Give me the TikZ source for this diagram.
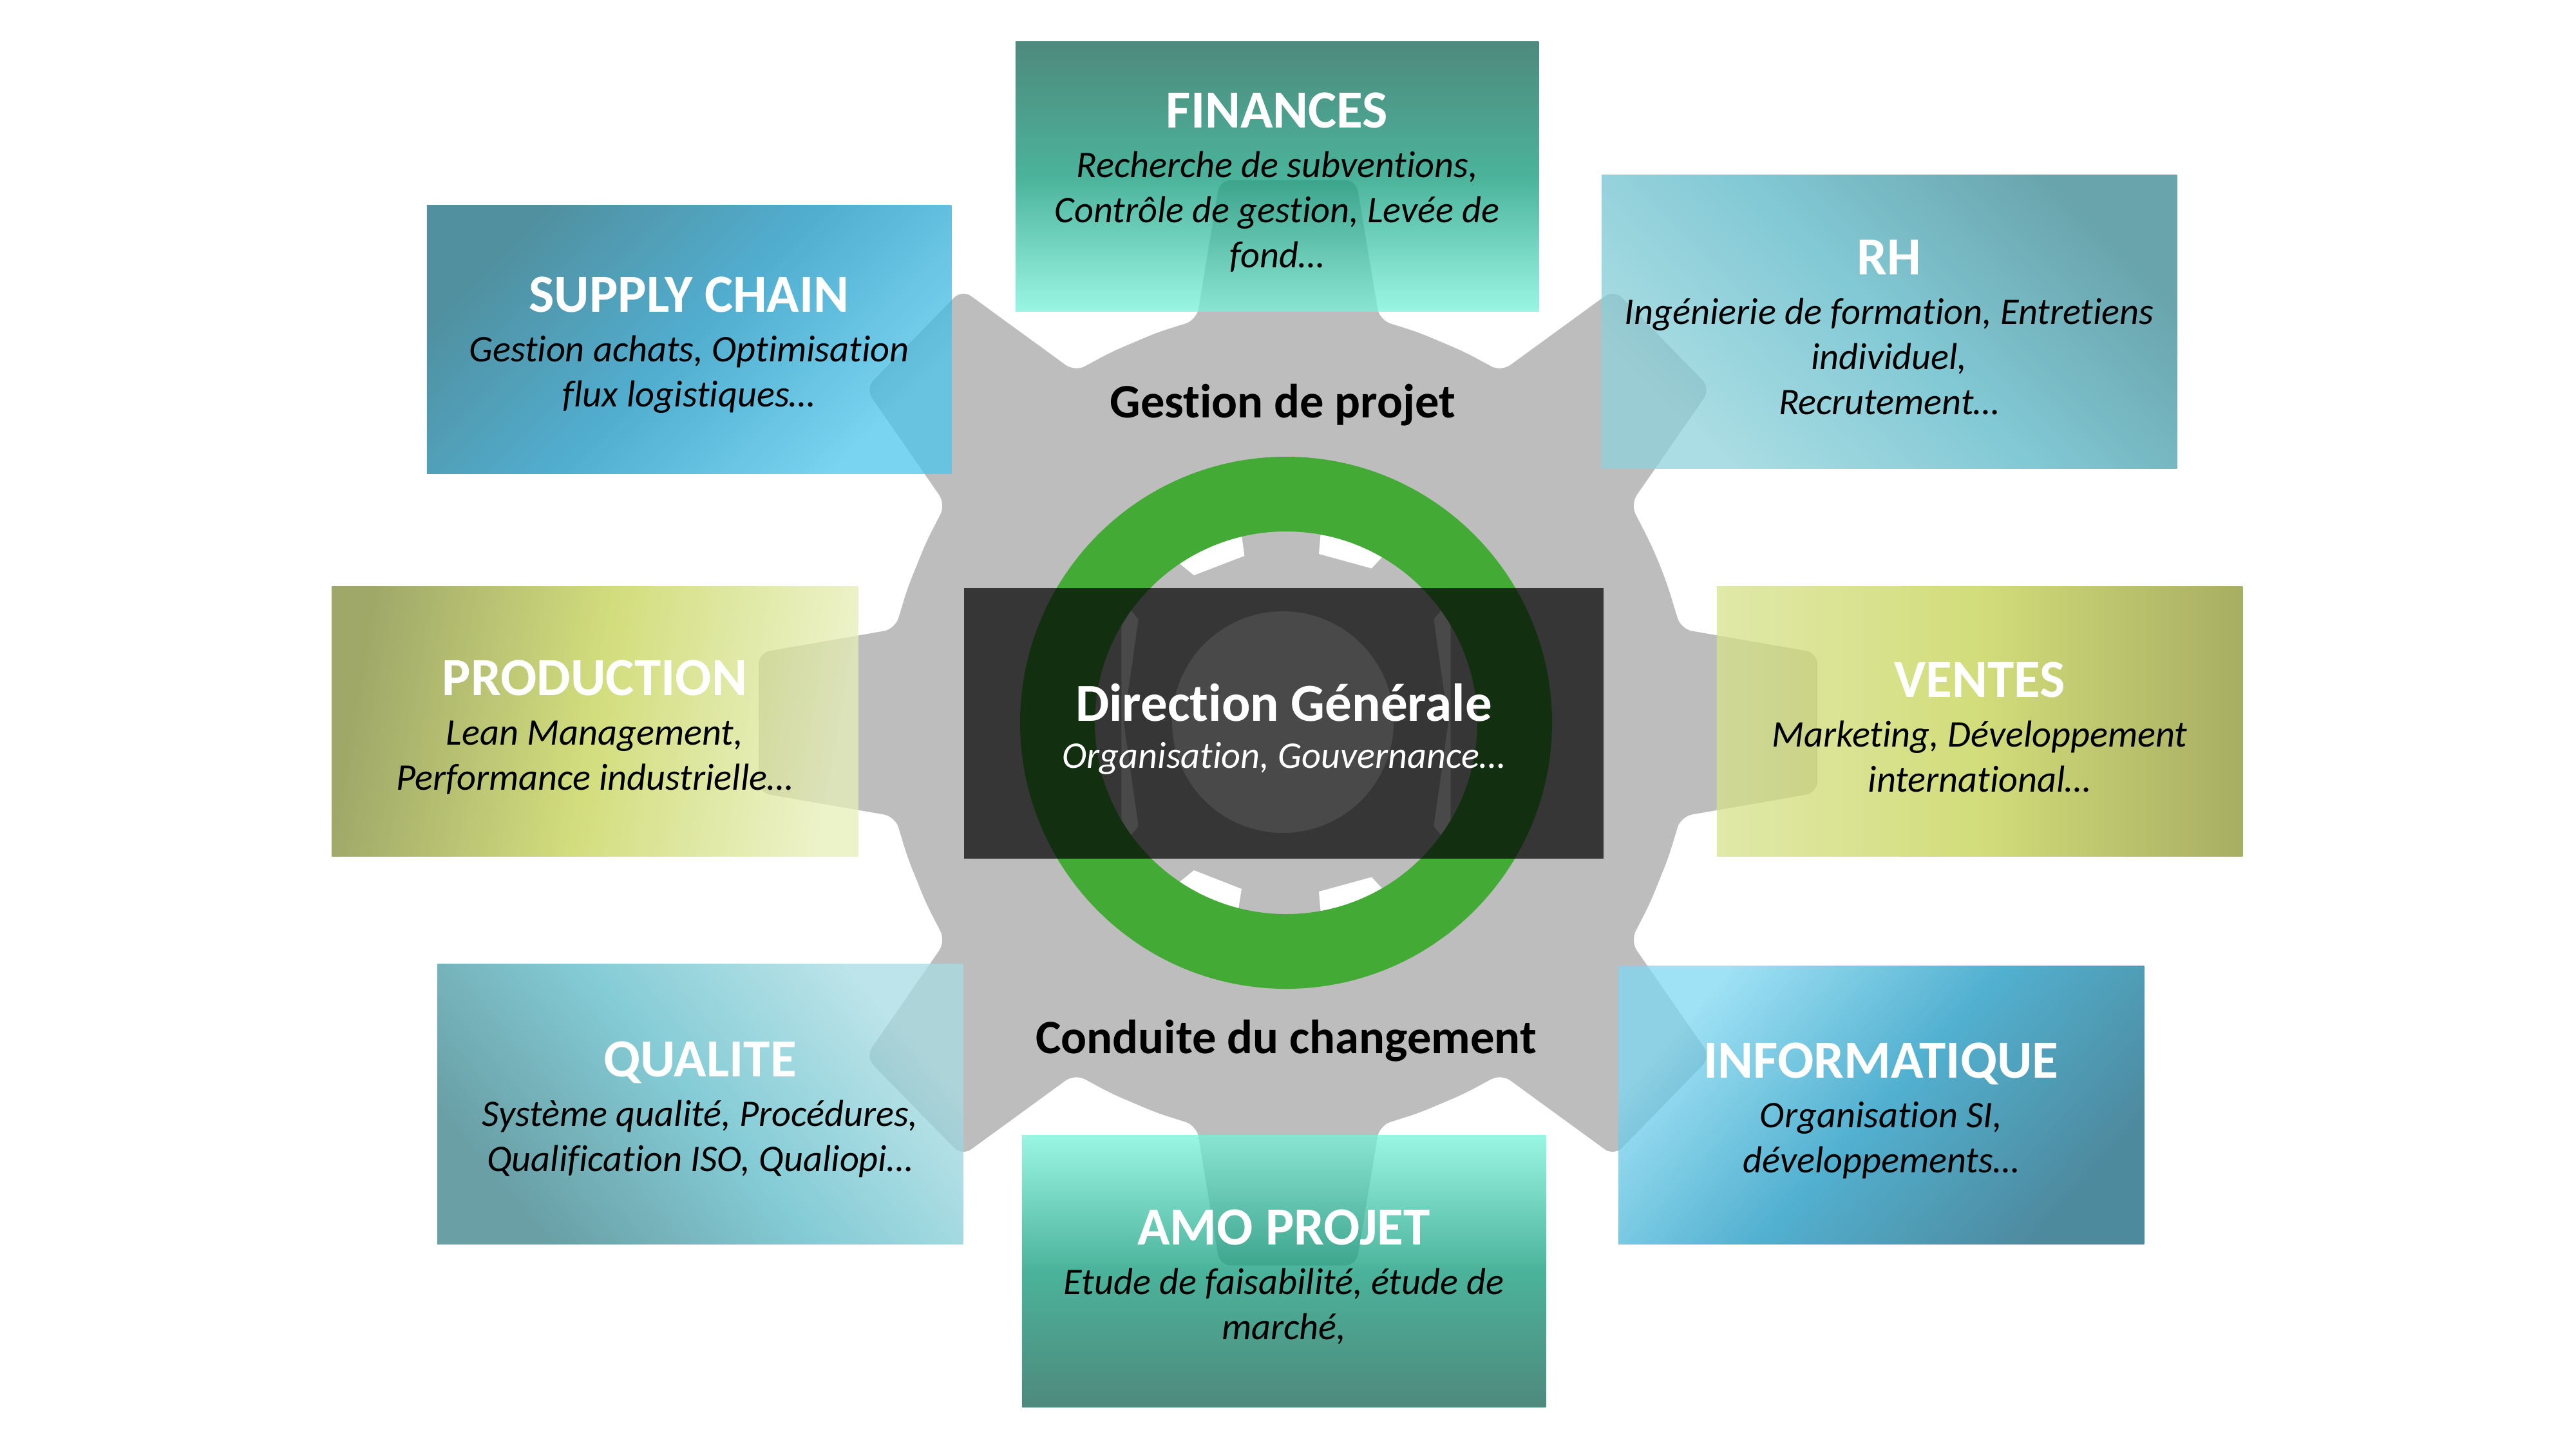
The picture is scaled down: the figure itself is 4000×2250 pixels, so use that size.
\documentclass[tikz,border=0pt]{standalone}
\usepackage{fontspec}
\setmainfont{Carlito}[Ligatures=NoCommon]
\definecolor{gearc}{HTML}{BDBDBD}
\definecolor{ringc}{HTML}{42AA35}
\definecolor{finA}{HTML}{136353}
\definecolor{finB}{HTML}{109A7A}
\definecolor{finC}{HTML}{78F3DA}
\definecolor{supA}{HTML}{166B80}
\definecolor{supB}{HTML}{1893C0}
\definecolor{supC}{HTML}{4BC6EB}
\definecolor{rhA}{HTML}{388691}
\definecolor{rhB}{HTML}{58B7C6}
\definecolor{rhC}{HTML}{8FD2DB}
\definecolor{proA}{HTML}{808B36}
\definecolor{proB}{HTML}{C4D353}
\definecolor{proC}{HTML}{E7EFB8}
\definecolor{venA}{HTML}{8B932E}
\definecolor{venB}{HTML}{C3D24E}
\definecolor{venC}{HTML}{D7E28C}
\definecolor{quaA}{HTML}{387F88}
\definecolor{quaB}{HTML}{5CBBC8}
\definecolor{quaC}{HTML}{A8DCE3}
\definecolor{infA}{HTML}{13637E}
\definecolor{infB}{HTML}{1896C0}
\definecolor{infC}{HTML}{80D8F2}
\newcommand\boxttl[1]{{\fontsize{23.7}{28}\selectfont\bfseries\upshape\color{white}#1}}
\begin{document}
\begin{tikzpicture}[x=0.01cm, y=-0.01cm,
  box/.style={rectangle, inner sep=0pt, fill opacity=0.75},
  boxtxt/.style={inner sep=0pt, align=center, text=black, yshift=-2.5pt,
              font=\fontsize{16.6}{19.9}\selectfont\itshape},
  lbl/.style={inner sep=0pt, text=black, font=\fontsize{21.2}{26}\selectfont\bfseries}]
\useasboundingbox (0,0) rectangle (4000,2250);
\fill[white] (0,0) rectangle (4000,2250);

% big gear
\begin{scope}[shift={(2000,1122)}, yscale=1.025]
\fill[gearc, rounded corners=5pt] (-22.5:625)
  \foreach \ang in {0,45,...,315}{ -- (\ang-19:625) -- (\ang-13.1:626.3) -- (\ang-7.35:828.8)
     -- (\ang+7.35:828.8) -- (\ang+13.1:626.3) -- (\ang+19:625) } -- cycle;
\end{scope}

% inner gear gaps and hole
\begin{scope}[shift={(1997,1122)}]
\fill[white] (37:320) -- (35:280) -- (0:252) -- (-35:280) -- (-37:320) -- cycle;
\fill[white] (143:320) -- (145:280) -- (180:252) -- (215:280) -- (217:320) -- cycle;
\fill[white] (-59:320) -- (-61:274) -- (-79:267) -- (-80:320) -- cycle;
\fill[white] (-103:320) -- (-104:267) -- (-122:270) -- (-125:320) -- cycle;
\fill[white] (-235:320) -- (-238:270) -- (-255:267) -- (-256:320) -- cycle;
\fill[white] (-280:320) -- (-281:267) -- (-299:274) -- (-301:320) -- cycle;
\end{scope}
\fill[white] (1992,1121) circle (172);
\fill[ringc, even odd rule] (1997,1122) circle (413) (1997,1122) circle (297);

% central block
\node[fill=black, fill opacity=0.714, inner sep=0pt,
      minimum width=9.93cm, minimum height=4.2cm] (dg) at (1993.5,1123) {};
\node[inner sep=0pt, text=white, align=center, yshift=-2.5pt,
      font=\fontsize{16.6}{20.8}\selectfont] (dgt) at (dg)
  {{\fontsize{23.6}{28}\selectfont\bfseries Direction Générale}\\ {\itshape Organisation, Gouvernance…}};

\node[lbl, anchor=base] (gp) at (1992,648) {Gestion de projet};
\node[lbl, anchor=base] (cc) at (1997,1635) {Conduite du changement};

% boxes
\node[box, minimum width=8.12cm, minimum height=4.18cm,
      top color=finA, bottom color=finC, middle color=finB] (fin) at (1983,274) {};
\node[boxtxt] (fint) at (fin)
  {\boxttl{FINANCES}\\[2pt] Recherche de subventions,\\ Contrôle de gestion, Levée de\\ fond…};

\node[box, minimum width=8.14cm, minimum height=4.16cm,
      top color=supA, bottom color=supC, middle color=supB, shading angle=45] (sup) at (1070,527) {};
\node[boxtxt] (supt) at (sup)
  {\boxttl{SUPPLY CHAIN}\\[2pt] Gestion achats, Optimisation\\ flux logistiques…};

\node[box, minimum width=8.93cm, minimum height=4.55cm,
      top color=rhA, bottom color=rhC, middle color=rhB, shading angle=-45] (rh) at (2933.5,499.5) {};
\node[boxtxt] (rht) at (rh)
  {\boxttl{RH}\\[2pt] Ingénierie de formation, Entretiens\\ individuel,\\ Recrutement…};

\node[box, minimum width=8.17cm, minimum height=4.18cm,
      top color=proA, bottom color=proC, middle color=proB, shading angle=80] (pro) at (923.5,1120) {};
\node[boxtxt] (prot) at (pro)
  {\boxttl{PRODUCTION}\\[2pt] Lean Management,\\ Performance industrielle…};

\node[box, minimum width=8.16cm, minimum height=4.18cm,
      top color=venA, bottom color=venC, middle color=venB, shading angle=-90] (ven) at (3074,1120) {};
\node[boxtxt] (vent) at (ven)
  {\boxttl{VENTES}\\[2pt] Marketing, Développement\\ international…};

\node[box, minimum width=8.16cm, minimum height=4.34cm,
      top color=quaC, bottom color=quaA, middle color=quaB, shading angle=-50] (qua) at (1087,1714) {};
\node[boxtxt] (quat) at (qua)
  {\boxttl{QUALITE}\\[2pt] Système qualité, Procédures,\\ Qualification ISO, Qualiopi…};

\node[box, minimum width=8.16cm, minimum height=4.31cm,
      top color=infC, bottom color=infA, middle color=infB, shading angle=48] (inf) at (2921,1715.5) {};
\node[boxtxt] (inft) at (inf)
  {\boxttl{INFORMATIQUE}\\[2pt] Organisation SI,\\ développements…};

\node[box, minimum width=8.13cm, minimum height=4.21cm,
      top color=finC, bottom color=finA, middle color=finB] (amo) at (1993.5,1973.5) {};
\node[boxtxt] (amot) at (amo)
  {\boxttl{AMO PROJET}\\[2pt] Etude de faisabilité, étude de\\ marché,};
\end{tikzpicture}
\end{document}
